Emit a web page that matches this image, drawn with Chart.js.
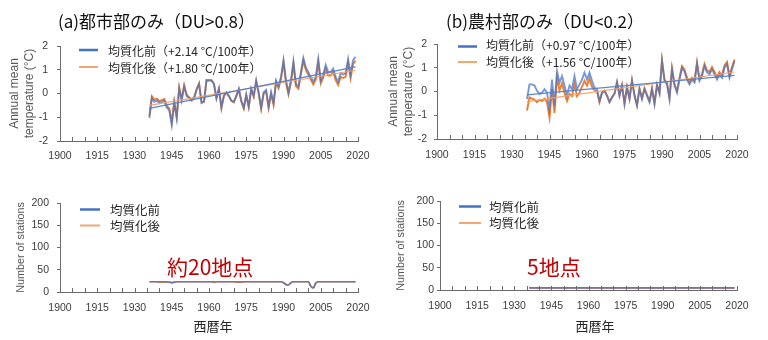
<!DOCTYPE html>
<html><head><meta charset="utf-8">
<script src="https://cdn.jsdelivr.net/npm/chart.js@4.4.1/dist/chart.umd.min.js"></script>
<style>
html,body{margin:0;padding:0;background:#fff;}
#wrap{position:relative;width:768px;height:340px;overflow:hidden;background:#fff;}
canvas{position:absolute;}
</style></head><body>
<div id="wrap">
<canvas id="ta" width="384" height="170" style="left:0;top:0"></canvas>
<canvas id="tb" width="384" height="170" style="left:384px;top:0"></canvas>
<canvas id="ba" width="384" height="170" style="left:0;top:170px"></canvas>
<canvas id="bb" width="384" height="170" style="left:384px;top:170px"></canvas>
</div>
<script>
// ---------- data ----------
const years = [1936,1937,1938,1939,1940,1941,1942,1943,1944,1945,
1946,1947,1948,1949,1950,1951,1952,1953,1954,1955,
1956,1957,1958,1959,1960,1961,1962,1963,1964,1965,
1966,1967,1968,1969,1970,1971,1972,1973,1974,1975,
1976,1977,1978,1979,1980,1981,1982,1983,1984,1985,
1986,1987,1988,1989,1990,1991,1992,1993,1994,1995,
1996,1997,1998,1999,2000,2001,2002,2003,2004,2005,
2006,2007,2008,2009,2010,2011,2012,2013,2014,2015,
2016,2017,2018,2019];

const tempUrbanBefore = [-1.04,-0.20,-0.35,-0.30,-0.40,-0.35,-0.30,-0.60,-0.70,-1.33,
-0.40,-1.05,0.20,-0.30,0.30,-0.10,-0.20,-0.30,-0.20,0.15,
0.40,-0.40,-0.35,0.55,0.55,0.55,0.40,-0.20,0.20,-0.60,
-0.10,0.05,-0.10,-0.30,-0.35,-0.10,0.20,-0.30,-0.60,-0.05,
-0.55,0.20,-0.10,0.55,0.05,-0.60,0.05,0.15,-0.55,0.05,
-0.40,0.55,0.30,0.70,1.40,0.55,0.05,0.55,1.35,0.40,
0.30,0.90,1.50,1.10,0.90,0.70,0.50,0.70,1.45,0.55,
0.80,1.20,0.90,0.90,1.05,0.70,0.50,0.85,0.80,0.85,
1.45,0.80,1.40,1.55];

const tempUrbanAfter = [-0.94,-0.12,-0.27,-0.22,-0.32,-0.28,-0.23,-0.52,-0.62,-1.22,
-0.33,-0.98,0.26,-0.24,0.35,-0.05,-0.15,-0.25,-0.16,0.19,
0.43,-0.37,-0.33,0.57,0.56,0.56,0.41,-0.20,0.20,-0.60,
-0.10,0.04,-0.11,-0.31,-0.37,-0.12,0.18,-0.33,-0.63,-0.08,
-0.58,0.17,-0.14,0.51,0.00,-0.65,0.00,0.09,-0.61,-0.01,
-0.47,0.48,0.22,0.62,1.32,0.46,-0.04,0.46,1.25,0.30,
0.20,0.80,1.39,0.99,0.79,0.59,0.38,0.58,1.33,0.43,
0.67,1.07,0.76,0.76,0.91,0.56,0.36,0.70,0.65,0.70,
1.30,0.64,1.24,1.38];

const tempRuralBefore = [-0.32,0.30,0.30,0.25,0.03,-0.10,-0.05,0.10,-0.05,-0.75,
0.50,-0.60,0.85,0.38,0.65,0.25,-0.18,0.25,0.10,0.65,
0.10,0.30,0.50,0.80,0.50,0.80,0.45,0.15,0.10,-0.40,
-0.05,0.03,-0.18,-0.45,-0.25,-0.10,0.38,-0.18,0.25,-0.53,
0.17,-0.32,0.45,-0.18,-0.60,0.10,-0.32,0.10,-0.18,-0.45,
0.10,-0.53,0.25,-0.10,1.28,0.45,0.30,-0.32,0.93,0.25,
-0.05,0.50,1.00,0.85,0.50,0.30,0.50,0.38,1.15,0.45,
0.65,1.07,0.80,0.72,0.93,0.72,0.50,0.72,0.58,1.00,
1.15,0.58,0.93,1.28];

const tempRuralAfter = [-0.80,-0.25,-0.30,-0.35,-0.45,-0.35,-0.40,-0.30,-0.45,-1.10,
0.10,-0.90,0.60,0.05,0.35,-0.05,-0.40,-0.10,-0.20,0.30,
-0.20,-0.05,0.20,0.45,0.25,0.55,0.20,0.05,0.00,-0.45,
-0.05,0.03,-0.17,-0.44,-0.24,-0.08,0.40,-0.16,0.27,-0.50,
0.20,-0.29,0.48,-0.15,-0.57,0.13,-0.28,0.14,-0.14,-0.41,
0.15,-0.48,0.30,-0.05,1.33,0.50,0.36,-0.26,0.99,0.31,
0.02,0.57,1.07,0.92,0.58,0.38,0.58,0.46,1.24,0.54,
0.74,1.16,0.89,0.82,1.03,0.82,0.60,0.82,0.68,1.10,
1.25,0.68,1.03,1.35];

// linear trend lines (end points)
const trendYears = [1936, 2019];
const trendUrbanBefore = [-0.63, 1.12];
const trendUrbanAfter = [-0.50, 0.98];
const trendRuralBefore = [-0.14, 0.68];
const trendRuralAfter = [-0.43, 0.82];

const stationsUrbanBefore = [23,23,23,23,23,23,23,23,22,21,
22,23,23,23,23,23,23,23,23,23,
23,23,23,23,23,23,23,23,23,23,
23,23,23,23,23,23,23,23,23,23,
23,23,23,23,23,23,23,23,23,23,
23,23,23,23,21,17,16,21,23,23,
23,23,23,23,23,13,9,20,23,23,
23,23,23,23,23,23,23,23,23,23,
23,23,23,23];
const stationsUrbanAfter = [23,23,23,23,22,22,22,22,22,21,
22,23,23,23,23,23,23,23,23,23,
23,23,23,23,23,23,22,23,23,23,
23,23,23,23,23,22,22,22,23,23,
23,23,23,23,23,23,23,23,23,23,
23,23,23,23,21,17,16,21,23,23,
23,23,23,23,23,13,9,20,23,23,
23,23,23,23,23,23,23,23,23,23,
23,23,23,23];
const stationsRuralBefore = [5,5,5,5,5,5,5,5,5,5,
5,5,5,5,5,5,5,5,5,5,
5,5,5,5,5,5,5,5,5,5,
5,5,5,5,5,5,5,5,5,5,
5,5,5,5,5,5,5,5,5,5,
5,5,5,5,5,5,5,5,5,5,
5,5,5,5,5,5,5,5,5,5,
5,5,5,5,5,5,5,5,5,5,
5,5,5,5];
const stationsRuralAfter = [5,5,5,5,5,5,5,5,5,5,
5,5,5,5,5,5,5,5,5,5,
5,5,5,5,5,5,5,5,5,5,
5,5,5,5,5,5,5,5,5,5,
5,5,5,5,5,5,5,5,5,5,
5,5,5,5,5,5,5,5,5,5,
5,5,5,5,5,5,5,5,5,5,
5,5,5,5,5,5,5,5,5,5,
5,5,5,5];

const xTickLabels = [1900, 1915, 1930, 1945, 1960, 1975, 1990, 2005, 2020];
const tempTicks = [2, 1, 0, -1, -2];
const stationTicks = [200, 150, 100, 50, 0];

const titles = ['(a)都市部のみ（DU>0.8）', '(b)農村部のみ（DU<0.2）'];
const labelsUrban = ['均質化前（+2.14 °C/100年）', '均質化後（+1.80 °C/100年）'];
const labelsRural = ['均質化前（+0.97 °C/100年）', '均質化後（+1.56 °C/100年）'];
const labelsStations = ['均質化前', '均質化後'];
const notes = ['約20地点', '5地点'];
const xAxisTitle = '西暦年';
const tempAxisTitle = ['Annual mean', 'temperature (°C)'];
const stationAxisTitle = 'Number of stations';

// ---------- styling ----------
const BLUE = 'rgba(68,114,196,0.72)';
const ORANGE = '#ED7D31';
const BLUE_TREND = 'rgba(80,128,210,0.95)';
const ORANGE_TREND = 'rgba(244,160,100,0.95)';
const LEG_BLUE = '#4472C4';
const LEG_ORANGE = '#F2A670';
const AXIS = '#6b6b6b';
const TICK = '#3c3c3c';
const CJK = '"Noto Sans CJK JP", "Noto Sans", sans-serif';
const LAT = '"Liberation Sans", Arial, sans-serif';

const pts = (xs, ys) => ys.map((v, i) => ({x: xs[i], y: v}));

function makeDecor(cfg) {
  return {
    id: 'decor_' + Math.random().toString(36).slice(2),
    afterDraw(chart) {
      const ctx = chart.ctx, a = chart.chartArea, xs = chart.scales.x;
      ctx.save();
      // inward minor tick marks every 5 years
      ctx.strokeStyle = AXIS; ctx.lineWidth = 1;
      for (let yr = xs.min; yr <= xs.max + 0.01; yr += 5) {
        const px = Math.round(xs.getPixelForValue(yr)) + 0.5;
        ctx.beginPath(); ctx.moveTo(px, a.bottom); ctx.lineTo(px, a.bottom - 4); ctx.stroke();
      }
      // title
      if (cfg.title) {
        ctx.fillStyle = '#111'; ctx.font = '17px ' + CJK;
        ctx.textAlign = 'left'; ctx.textBaseline = 'middle';
        ctx.fillText(cfg.title.text, cfg.title.x, cfg.title.y);
      }
      // legend
      cfg.legend.forEach(it => {
        const ds = chart.data.datasets[it.ds];
        ctx.strokeStyle = it.color; ctx.lineWidth = it.lw;
        ctx.beginPath(); ctx.moveTo(it.x1, it.y); ctx.lineTo(it.x2, it.y); ctx.stroke();
        ctx.fillStyle = '#262626'; ctx.font = cfg.legendFont;
        ctx.textAlign = 'left'; ctx.textBaseline = 'middle';
        ctx.fillText(ds.label, it.tx, it.ty);
      });
      // note
      if (cfg.note) {
        ctx.fillStyle = '#C00000'; ctx.font = '21px ' + CJK;
        ctx.textAlign = 'left'; ctx.textBaseline = 'middle';
        ctx.fillText(cfg.note.text, cfg.note.x, cfg.note.y);
      }
      // x axis title
      if (cfg.xTitle) {
        ctx.fillStyle = '#262626'; ctx.font = '13px ' + CJK;
        ctx.textAlign = 'center'; ctx.textBaseline = 'middle';
        ctx.fillText(cfg.xTitle.text, cfg.xTitle.x, cfg.xTitle.y);
      }
      ctx.restore();
    }
  };
}

function makeChart(id, p) {
  const ctx = document.getElementById(id);
  return new Chart(ctx, {
    type: 'line',
    data: {datasets: p.datasets},
    options: {
      responsive: false, animation: false, events: [],
      layout: {padding: {top: p.top, right: p.right, left: 0, bottom: 0}},
      plugins: {legend: {display: false}, tooltip: {enabled: false}, title: {display: false}},
      elements: {point: {radius: 0}},
      scales: {
        x: {
          type: 'linear', min: 1900, max: 2020,
          afterBuildTicks: s => { s.ticks = xTickLabels.map(v => ({value: v})); },
          ticks: {autoSkip: false, maxRotation: 0, minRotation: 0, padding: p.xPad,
                  font: {family: LAT, size: 10.5}, color: TICK, callback: v => String(v)},
          grid: {display: false, drawTicks: false},
          border: {display: true, color: AXIS, width: 1},
          afterFit: s => { s.height = p.xH; }
        },
        y: {
          type: 'linear', min: p.ymin, max: p.ymax,
          afterBuildTicks: s => { s.ticks = p.yTicks.map(v => ({value: v})); },
          ticks: {padding: p.yPad, font: {family: LAT, size: 10.5}, color: TICK, callback: v => String(v)},
          grid: {drawOnChartArea: false, drawTicks: true, tickLength: 3, color: AXIS},
          border: {display: true, color: AXIS, width: 1},
          title: {display: true, text: p.yTitle, color: '#595959',
                  font: {family: LAT, size: p.yTitleSize, lineHeight: p.yTitleLH},
                  padding: {top: p.yTitlePad, bottom: 0}},
          afterFit: s => { s.width = p.yW; }
        }
      }
    },
    plugins: [makeDecor(p.decor)]
  });
}

function tempDatasets(labels, before, after, tBefore, tAfter) {
  return [
    {label: 'trend before', data: pts(trendYears, tBefore), borderColor: BLUE_TREND, borderWidth: 1.2, pointRadius: 0},
    {label: 'trend after', data: pts(trendYears, tAfter), borderColor: ORANGE_TREND, borderWidth: 1.2, pointRadius: 0},
    {label: labels[0], data: pts(years, before), borderColor: BLUE, borderWidth: 1.9, pointRadius: 0, tension: 0},
    {label: labels[1], data: pts(years, after), borderColor: ORANGE, borderWidth: 1.9, pointRadius: 0, tension: 0}
  ];
}
function stationDatasets(before, after) {
  return [
    {label: labelsStations[0], data: pts(years, before), borderColor: BLUE, borderWidth: 1.7, pointRadius: 0, tension: 0.4, cubicInterpolationMode: 'monotone'},
    {label: labelsStations[1], data: pts(years, after), borderColor: ORANGE, borderWidth: 1.7, pointRadius: 0, tension: 0.4, cubicInterpolationMode: 'monotone'}
  ];
}

// (a) top
makeChart('ta', {
  datasets: tempDatasets(labelsUrban, tempUrbanBefore, tempUrbanAfter, trendUrbanBefore, trendUrbanAfter),
  top: 46, right: 26, xH: 29, yW: 60, xPad: 9, yPad: 9,
  ymin: -2, ymax: 2, yTicks: tempTicks,
  yTitle: tempAxisTitle, yTitleSize: 12, yTitleLH: 1.25, yTitlePad: 7.5,
  decor: {
    title: {text: titles[0], x: 58, y: 22},
    legendFont: '12px ' + CJK,
    legend: [
      {ds: 2, color: LEG_BLUE, lw: 2.5, x1: 79, x2: 98, y: 50, tx: 108, ty: 51},
      {ds: 3, color: LEG_ORANGE, lw: 2, x1: 79, x2: 98, y: 67, tx: 108, ty: 68}
    ]
  }
});
// (b) top
makeChart('tb', {
  datasets: tempDatasets(labelsRural, tempRuralBefore, tempRuralAfter, trendRuralBefore, trendRuralAfter),
  top: 44, right: 31, xH: 31, yW: 53, xPad: 10, yPad: 7,
  ymin: -2, ymax: 2, yTicks: tempTicks,
  yTitle: tempAxisTitle, yTitleSize: 12, yTitleLH: 1.25, yTitlePad: 2.5,
  decor: {
    title: {text: titles[1], x: 62, y: 22},
    legendFont: '12px ' + CJK,
    legend: [
      {ds: 2, color: LEG_BLUE, lw: 2.5, x1: 74, x2: 93, y: 46.5, tx: 102, ty: 45.5},
      {ds: 3, color: LEG_ORANGE, lw: 2, x1: 74, x2: 93, y: 62, tx: 102, ty: 62}
    ]
  }
});
// (a) bottom
makeChart('ba', {
  datasets: stationDatasets(stationsUrbanBefore, stationsUrbanAfter),
  top: 33, right: 26, xH: 48, yW: 60, xPad: 10, yPad: 8,
  ymin: 0, ymax: 200, yTicks: stationTicks,
  yTitle: stationAxisTitle, yTitleSize: 10.8, yTitleLH: 1.2, yTitlePad: 14.5,
  decor: {
    legendFont: '12.5px ' + CJK,
    legend: [
      {ds: 0, color: LEG_BLUE, lw: 2.5, x1: 80, x2: 100, y: 39.5, tx: 110, ty: 40},
      {ds: 1, color: LEG_ORANGE, lw: 2, x1: 80, x2: 100, y: 55.5, tx: 110, ty: 56}
    ],
    note: {text: notes[0], x: 167, y: 97},
    xTitle: {text: xAxisTitle, x: 213, y: 156}
  }
});
// (b) bottom
makeChart('bb', {
  datasets: stationDatasets(stationsRuralBefore, stationsRuralAfter),
  top: 31, right: 31, xH: 50, yW: 56, xPad: 10, yPad: 3,
  ymin: 0, ymax: 200, yTicks: stationTicks,
  yTitle: stationAxisTitle, yTitleSize: 10.8, yTitleLH: 1.2, yTitlePad: 10.2,
  decor: {
    legendFont: '12.5px ' + CJK,
    legend: [
      {ds: 0, color: LEG_BLUE, lw: 2.5, x1: 75, x2: 97, y: 36.5, tx: 105, ty: 37},
      {ds: 1, color: LEG_ORANGE, lw: 2, x1: 75, x2: 97, y: 53, tx: 105, ty: 53.5}
    ],
    note: {text: notes[1], x: 143, y: 97},
    xTitle: {text: xAxisTitle, x: 211, y: 156}
  }
});
</script>
</body></html>
